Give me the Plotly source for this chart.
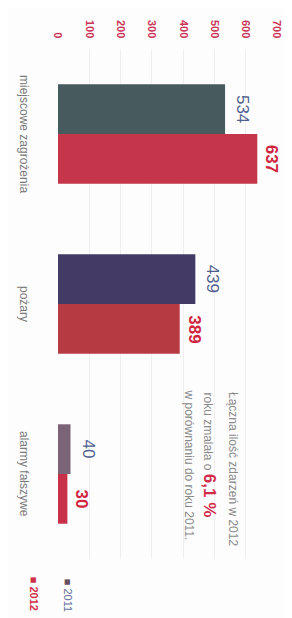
import plotly.graph_objects as go

categories = ["miejscowe zagrożenia", "pożary", "alarmy fałszywe"]
values_2011 = [534, 439, 40]
values_2012 = [637, 389, 30]
colors_2011 = ["#475a5e", "#433b66", "#7c6478"]
colors_2012 = ["#c6364a", "#b63a42", "#c8304a"]
tick_vals = [0, 100, 200, 300, 400, 500, 600, 700]
series_names = ["2011", "2012"]
note_line1 = "Łączna ilość zdarzeń w 2012"
note_line2 = "roku zmalała o"
note_value = "6,1 %"
note_line3 = "w porównaniu do roku 2011."

FONT = "Liberation Sans"
W, H = 292, 618
L, R, T, B = 50, 23, 38, 67
PW, PH = W - L - R, H - T - B


def px(xpix):
    return (xpix - L) / PW


def py(ypix):
    return (H - B - ypix) / PH


fig = go.Figure()
fig.add_trace(go.Bar(name=series_names[0], y=categories, x=values_2011, orientation="h",
                     marker=dict(color=colors_2011, line=dict(width=0)), showlegend=False))
fig.add_trace(go.Bar(name=series_names[1], y=categories, x=values_2012, orientation="h",
                     marker=dict(color=colors_2012, line=dict(width=0)), showlegend=False))

ann = []
# value labels
for c, v in zip(categories, values_2011):
    ann.append(dict(x=v, y=c, xref="x", yref="y", text=str(v), showarrow=False,
                    textangle=90, xanchor="center", yanchor="middle", xshift=18, yshift=25,
                    font=dict(family=FONT, size=17, color="#50608e")))
for c, v in zip(categories, values_2012):
    ann.append(dict(x=v, y=c, xref="x", yref="y", text="<b>%d</b>" % v, showarrow=False,
                    textangle=90, xanchor="center", yanchor="middle", xshift=15, yshift=-25,
                    font=dict(family=FONT, size=17, color="#d0243f")))
# category labels
for c in categories:
    ann.append(dict(x=0, y=c, xref="x", yref="y", text=c, showarrow=False, textangle=90,
                    xanchor="center", yanchor="middle", xshift=-34,
                    font=dict(family=FONT, size=12, color="#7a7a7a")))
# note (three lines, wide line spacing)
note_font = dict(family=FONT, size=12, color="#8a8a8a")
ann.append(dict(x=px(225), y=py(381), xref="paper", yref="paper", text=note_line1,
                showarrow=False, textangle=90, xanchor="center", yanchor="top", font=note_font))
ann.append(dict(x=px(202), y=py(381), xref="paper", yref="paper",
                text=note_line2 + " <b><span style='color:#d42a4a;font-size:17px'>" + note_value + "</span></b>",
                showarrow=False, textangle=90, xanchor="center", yanchor="top", font=note_font))
ann.append(dict(x=px(181), y=py(378), xref="paper", yref="paper", text=note_line3,
                showarrow=False, textangle=90, xanchor="center", yanchor="top", font=note_font))
# legend
ann.append(dict(x=px(26), y=py(586), xref="paper", yref="paper",
                text="<b>■ " + series_names[1] + "</b>", showarrow=False, textangle=90,
                xanchor="center", yanchor="middle",
                font=dict(family=FONT, size=11, color="#d0304a")))
ann.append(dict(x=px(60), y=py(587), xref="paper", yref="paper",
                text="<span style='color:#6a5060'>■</span> " + series_names[0], showarrow=False, textangle=90,
                xanchor="center", yanchor="middle",
                font=dict(family=FONT, size=11, color="#6670a0")))

fig.update_layout(
    width=W, height=H,
    margin=dict(l=L, r=R, t=T, b=B, pad=0),
    paper_bgcolor="#fdfdfd", plot_bgcolor="#fdfdfd",
    barmode="group", bargap=0.415, bargroupgap=0,
    annotations=ann,
    xaxis=dict(range=[0, 700], side="top", tickvals=tick_vals, ticktext=["<b>%d</b>" % t for t in tick_vals],
               tickangle=90, showgrid=True, gridcolor="#efefef", gridwidth=1, zeroline=False,
               showline=False, ticks="", ticklabelstandoff=8,
               tickfont=dict(family=FONT, size=11, color="#cc3558"), fixedrange=True),
    yaxis=dict(autorange="reversed", showticklabels=False, showgrid=False, zeroline=False,
               showline=False, ticks="", fixedrange=True),
    font=dict(family=FONT),
)

fig.write_html("out.html")
